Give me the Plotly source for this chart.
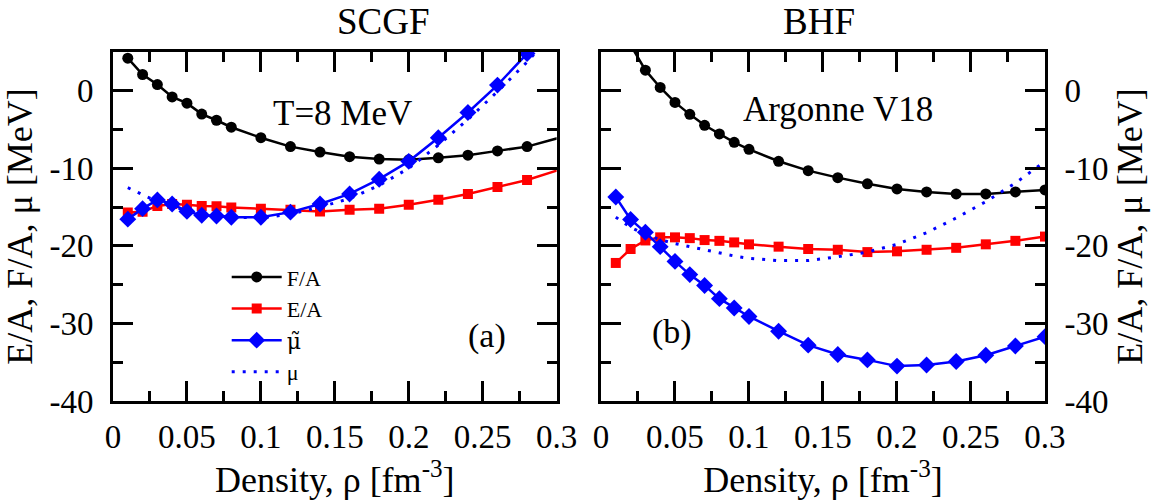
import plotly.graph_objects as go

# ---- SCGF panel (a), T = 8 MeV ----
rho_scgf = [0.01, 0.02, 0.03, 0.04, 0.05, 0.06, 0.07, 0.08, 0.10, 0.12,
            0.14, 0.16, 0.18, 0.20, 0.22, 0.24, 0.26, 0.28, 0.32]
fa_scgf = [4.2, 2.1, 0.8, -0.8, -1.6, -3.0, -3.8, -4.7, -6.05, -7.2,
           -7.9, -8.5, -8.8, -8.9, -8.65, -8.3, -7.75, -7.2, -5.1]
ea_scgf = [-15.7, -15.6, -14.85, -14.6, -14.7, -14.85, -14.9, -15.05, -15.2, -15.35,
           -15.55, -15.35, -15.2, -14.7, -14.05, -13.3, -12.4, -11.5, -9.1]
rho_mut_scgf = [0.01, 0.02, 0.03, 0.04, 0.05, 0.06, 0.07, 0.08, 0.10, 0.12,
                0.14, 0.16, 0.18, 0.20, 0.22, 0.24, 0.26, 0.28]
mut_scgf = [-16.55, -15.2, -14.07, -14.6, -15.55, -16.05, -16.15, -16.3, -16.3, -15.65,
            -14.6, -13.3, -11.4, -9.1, -6.05, -2.8, 0.73, 4.8]
rho_mu_scgf = [0.01, 0.02, 0.03, 0.04, 0.05, 0.06, 0.07, 0.08, 0.10, 0.12,
               0.14, 0.16, 0.18, 0.20, 0.22, 0.24, 0.26, 0.28, 0.30]
mu_scgf = [-12.5, -13.4, -14.3, -14.9, -15.5, -15.9, -16.1, -16.3, -16.4, -15.9,
           -15.0, -13.9, -12.2, -10.0, -7.0, -3.7, -0.1, 3.7, 8.0]

# ---- BHF panel (b), Argonne V18 ----
rho_bhf = [0.01, 0.02, 0.03, 0.04, 0.05, 0.06, 0.07, 0.08, 0.09, 0.10,
           0.12, 0.14, 0.16, 0.18, 0.20, 0.22, 0.24, 0.26, 0.28, 0.30]
fa_bhf = [10.5, 5.9, 2.66, 0.43, -1.5, -3.04, -4.45, -5.57, -6.64, -7.55,
          -9.09, -10.3, -11.2, -12.0, -12.65, -13.04, -13.3, -13.3, -13.04, -12.78]
ea_bhf = [-22.2, -20.4, -19.3, -18.9, -18.9, -19.0, -19.25, -19.35, -19.55, -19.8,
          -20.1, -20.4, -20.5, -20.8, -20.7, -20.5, -20.25, -19.8, -19.35, -18.8]
mut_bhf = [-13.7, -16.6, -18.25, -20.1, -22.0, -23.7, -25.1, -26.8, -28.0, -29.1,
           -31.0, -32.8, -34.0, -34.7, -35.5, -35.35, -34.9, -34.1, -32.9, -31.7]
mu_bhf = [-16.3, -17.6, -18.5, -19.2, -19.7, -20.1, -20.5, -20.9, -21.3, -21.6,
          -21.9, -21.9, -21.4, -20.8, -19.8, -18.3, -16.4, -14.3, -11.9, -9.1]

# ---- ticks ----
x_major = [0, 0.05, 0.10, 0.15, 0.20, 0.25, 0.30]
x_labels = ["0", "0.05", "0.1", "0.15", "0.2", "0.25", "0.3"]
y_major = [-40, -30, -20, -10, 0]
y_labels = ["-40", "-30", "-20", "-10", "0"]

FONT = "Liberation Serif"
BLACK, RED, BLUE = "#000000", "#ff0000", "#0000ff"
LW = 2.5
AXW = 3
MU_TILDE = "<span style='font-family:DejaVu Serif'>μ&#771;</span>"

fig = go.Figure()


def add_panel(xa, ya, rho_f, fa, rho_e, ea, rho_t, mut, rho_m, mu, show):
    fig.add_trace(go.Scatter(
        x=rho_f, y=fa, xaxis=xa, yaxis=ya, mode="lines+markers", name="F/A",
        line=dict(color=BLACK, width=LW), marker=dict(symbol="circle", size=11, color=BLACK),
        showlegend=show, legendrank=1))
    fig.add_trace(go.Scatter(
        x=rho_e, y=ea, xaxis=xa, yaxis=ya, mode="lines+markers", name="E/A",
        line=dict(color=RED, width=LW), marker=dict(symbol="square", size=10, color=RED),
        showlegend=show, legendrank=2))
    fig.add_trace(go.Scatter(
        x=rho_t, y=mut, xaxis=xa, yaxis=ya, mode="lines+markers", name=MU_TILDE,
        line=dict(color=BLUE, width=LW), marker=dict(symbol="diamond", size=13, color=BLUE),
        showlegend=show, legendrank=3))
    fig.add_trace(go.Scatter(
        x=rho_m, y=mu, xaxis=xa, yaxis=ya, mode="lines", name="μ",
        line=dict(color=BLUE, width=3, dash="3px,8px"),
        showlegend=show, legendrank=4))


add_panel("x", "y", rho_scgf, fa_scgf, rho_scgf, ea_scgf,
          rho_mut_scgf, mut_scgf, rho_mu_scgf, mu_scgf, True)
add_panel("x2", "y2", rho_bhf, fa_bhf, rho_bhf, ea_bhf,
          rho_bhf, mut_bhf, rho_bhf, mu_bhf, False)

tickfont = dict(family=FONT, size=33, color=BLACK)
titlefont = dict(family=FONT, size=36, color=BLACK)


def x_axis():
    return dict(
        range=[0, 0.3], tickmode="array", tickvals=x_major, ticktext=x_labels,
        ticks="inside", ticklen=20, tickwidth=AXW, tickcolor=BLACK,
        minor=dict(tickmode="linear", tick0=0.025, dtick=0.05, ticks="inside",
                   ticklen=10, tickwidth=AXW, tickcolor=BLACK),
        showline=True, linewidth=AXW, linecolor=BLACK, mirror="ticks",
        showgrid=False, zeroline=False, tickfont=tickfont, ticklabelstandoff=4,
        title=dict(text="Density, ρ [fm<sup>-3</sup>]", font=titlefont, standoff=8),
    )


def y_axis(side):
    return dict(
        range=[-40, 5], tickmode="array", tickvals=y_major, ticktext=y_labels,
        ticks="inside", ticklen=20, tickwidth=AXW, tickcolor=BLACK,
        minor=dict(tickmode="linear", tick0=-35, dtick=10, ticks="inside",
                   ticklen=10, tickwidth=AXW, tickcolor=BLACK),
        showline=True, linewidth=AXW, linecolor=BLACK, mirror="ticks", side=side,
        showgrid=False, zeroline=False, tickfont=tickfont, ticklabelstandoff=10,
        title=dict(text="E/A, F/A, μ [MeV]", font=titlefont, standoff=10),
    )


fig.update_layout(
    template="none",
    width=1158, height=502,
    margin=dict(l=113, r=113, t=52, b=101),
    paper_bgcolor="white", plot_bgcolor="white",
    font=dict(family=FONT, color=BLACK),
    xaxis=dict(domain=[0, 0.476], anchor="y", **x_axis()),
    yaxis=dict(domain=[0, 1], anchor="x", **y_axis("left")),
    xaxis2=dict(domain=[0.5236, 1], anchor="y2", **x_axis()),
    yaxis2=dict(domain=[0, 1], anchor="x2", **y_axis("right")),
    legend=dict(
        x=0.122, y=0.415, xanchor="left", yanchor="top",
        bgcolor="rgba(0,0,0,0)", borderwidth=0,
        font=dict(family=FONT, size=22, color=BLACK),
        itemwidth=50, tracegroupgap=0,
    ),
    showlegend=True,
)

annotations = [
    dict(text="SCGF", x=0.238, y=1.0, xref="paper", yref="paper", yanchor="middle",
         yshift=31, showarrow=False, font=dict(family=FONT, size=37)),
    dict(text="BHF", x=0.798, y=1.0, xref="paper", yref="paper", yanchor="middle",
         yshift=31, showarrow=False, font=dict(family=FONT, size=37)),
    dict(text="T=8 MeV", x=0.518, y=0.885, xref="x domain", yref="y domain",
         showarrow=False, font=dict(family=FONT, size=35)),
    dict(text="Argonne V18", x=0.534, y=0.898, xref="x2 domain", yref="y2 domain",
         showarrow=False, font=dict(family=FONT, size=35)),
    dict(text="(a)", x=0.89, y=0.126, xref="x domain", yref="y domain",
         showarrow=False, font=dict(family=FONT, size=34)),
    dict(text="(b)", x=0.11, y=0.1375, xref="x2 domain", yref="y2 domain",
         showarrow=False, font=dict(family=FONT, size=34)),
]
fig.update_layout(annotations=annotations)

fig.write_html("out.html")
